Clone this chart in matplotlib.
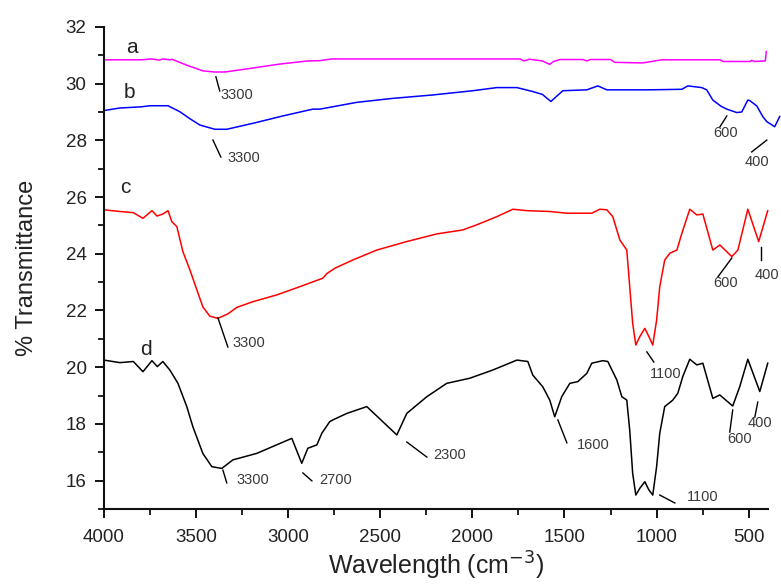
import matplotlib
matplotlib.use("Agg")
import matplotlib.pyplot as plt
from matplotlib.ticker import MultipleLocator

plt.rcParams['font.family'] = ['Liberation Sans', 'DejaVu Sans']

# ---- data (wavenumber cm-1, % transmittance) ----
a_x = [4000, 3913, 3800, 3740, 3700, 3680, 3640, 3631, 3550, 3463, 3400, 3343, 3191, 3045,
       2893, 2828, 2763, 2000, 1742, 1720, 1690, 1620, 1580, 1560, 1525, 1400, 1379, 1360,
       1250, 1227, 1075, 972, 800, 657, 640, 494, 484, 470, 410, 405]
a_y = [30.84, 30.84, 30.84, 30.87, 30.83, 30.87, 30.84, 30.86, 30.65, 30.45, 30.41, 30.41,
       30.55, 30.69, 30.80, 30.81, 30.87, 30.87, 30.87, 30.80, 30.86, 30.80, 30.68, 30.78,
       30.85, 30.85, 30.80, 30.85, 30.85, 30.75, 30.73, 30.84, 30.84, 30.84, 30.78, 30.78,
       30.82, 30.78, 30.80, 31.13]

b_x = [4000, 3913, 3800, 3750, 3652, 3588, 3530, 3479, 3398, 3333, 3191, 3029, 2866, 2828,
       2627, 2432, 2215, 1997, 1867, 1758, 1672, 1620, 1574, 1509, 1379, 1319, 1270, 1053,
       863, 831, 755, 728, 695, 650, 619, 565, 538, 505, 494, 456, 424, 402, 359, 332]
b_y = [29.05, 29.14, 29.18, 29.22, 29.22, 29.01, 28.75, 28.54, 28.39, 28.39, 28.60, 28.86,
       29.10, 29.10, 29.34, 29.48, 29.60, 29.75, 29.86, 29.86, 29.72, 29.62, 29.37, 29.75,
       29.78, 29.92, 29.78, 29.78, 29.80, 29.92, 29.86, 29.78, 29.42, 29.20, 29.10, 28.98,
       29.00, 29.42, 29.40, 29.21, 28.84, 28.66, 28.48, 28.84]

c_x = [4000, 3913, 3840, 3788, 3739, 3712, 3680, 3652, 3631, 3604, 3571, 3533, 3495, 3463,
       3425, 3381, 3327, 3278, 3191, 3061, 2936, 2811, 2790, 2746, 2649, 2519, 2356, 2193,
       2052, 1976, 1867, 1780, 1705, 1580, 1488, 1352, 1308, 1270, 1238, 1200, 1162, 1146,
       1130, 1113, 1091, 1064, 1042, 1021, 1000, 983, 956, 928, 890, 863, 820, 782, 749,
       695, 657, 592, 559, 505, 446, 397]
c_y = [25.55, 25.49, 25.45, 25.25, 25.52, 25.33, 25.40, 25.52, 25.13, 24.96, 24.07, 23.43,
       22.72, 22.13, 21.80, 21.72, 21.88, 22.11, 22.31, 22.55, 22.84, 23.14, 23.30, 23.49,
       23.78, 24.13, 24.43, 24.70, 24.84, 25.02, 25.31, 25.57, 25.52, 25.49, 25.43, 25.43,
       25.57, 25.55, 25.31, 24.49, 24.13, 22.84, 21.55, 20.78, 21.08, 21.37, 21.08, 20.78,
       21.66, 22.84, 23.78, 24.02, 24.13, 24.72, 25.57, 25.37, 25.40, 24.13, 24.31, 23.90,
       24.13, 25.57, 24.43, 25.52]

d_x = [4000, 3913, 3840, 3788, 3739, 3710, 3680, 3642, 3598, 3550, 3517, 3463, 3414, 3360,
       3300, 3170, 2980, 2926, 2893, 2844, 2817, 2774, 2757, 2681, 2573, 2410, 2356, 2247,
       2139, 2014, 1889, 1758, 1699, 1672, 1618, 1580, 1553, 1515, 1471, 1428, 1379, 1352,
       1292, 1265, 1216, 1189, 1162, 1146, 1130, 1113, 1091, 1064, 1042, 1021, 1000, 983,
       956, 912, 885, 858, 820, 782, 749, 695, 657, 587, 549, 505, 440, 397]
d_y = [20.25, 20.16, 20.20, 19.84, 20.23, 20.02, 20.20, 19.90, 19.43, 18.61, 17.90, 16.96,
       16.49, 16.43, 16.73, 16.96, 17.49, 16.61, 17.14, 17.26, 17.67, 18.08, 18.14, 18.37,
       18.61, 17.61, 18.37, 18.96, 19.43, 19.61, 19.90, 20.25, 20.20, 19.72, 19.31, 18.84,
       18.25, 18.96, 19.43, 19.49, 19.78, 20.14, 20.23, 20.20, 19.55, 18.96, 18.84, 17.78,
       16.26, 15.49, 15.73, 15.96, 15.67, 15.49, 16.49, 17.67, 18.61, 18.84, 19.08, 19.67,
       20.28, 20.08, 20.14, 18.90, 19.02, 18.63, 19.31, 20.28, 19.14, 20.14]

series_names = ['a', 'b', 'c', 'd']
series_colors = ['#ff00ff', '#0000ff', '#ff0000', '#000000']
series_label_pos = [(3848, 31.26), (3859, 29.67), (3881, 26.32), (3772, 20.61)]

# peak annotations: (text, line start, line end, text anchor)
peak_labels = ['3300', '3300', '600', '400', '3300', '1100', '600', '400',
               '3300', '2700', '2300', '1600', '1100', '600', '400']
peak_lines = [((3392, 30.24), (3371, 29.74)),
              ((3408, 28.01), (3365, 27.41)),
              ((619, 28.86), (657, 28.47)),
              ((402, 28.01), (484, 27.59)),
              ((3381, 21.74), (3327, 20.71)),
              ((1053, 20.54), (1015, 20.18)),
              ((592, 23.85), (668, 23.18)),
              ((435, 24.24), (435, 23.78)),
              ((3354, 16.37), (3333, 15.92)),
              ((2920, 16.27), (2871, 15.99)),
              ((2356, 17.36), (2247, 16.83)),
              ((1536, 18.14), (1487, 17.33)),
              ((983, 15.49), (901, 15.21)),
              ((587, 18.49), (603, 17.71)),
              ((451, 18.77), (467, 18.24))]
peak_text_pos = [(3365, 29.60), (3327, 27.38), (690, 28.26), (522, 27.24),
                 (3300, 20.85), (1037, 19.76), (695, 22.97), (467, 23.25),
                 (3278, 16.02), (2833, 16.02), (2215, 16.90), (1433, 17.26),
                 (836, 15.42), (619, 17.47), (505, 18.03)]

fig = plt.figure(figsize=(7.81, 5.85), dpi=100)
ax = fig.add_axes([0.133, 0.130, 0.850, 0.824])

for xs, ys, col in zip([a_x, b_x, c_x, d_x], [a_y, b_y, c_y, d_y], series_colors):
    ax.plot(xs, ys, color=col, lw=1.1, clip_on=False)

for name, (px, py) in zip(series_names, series_label_pos):
    ax.text(px, py, name, fontsize=15, color='#222222', ha='center', va='center')

for lab, (p0, p1), (tx, ty) in zip(peak_labels, peak_lines, peak_text_pos):
    ax.plot([p0[0], p1[0]], [p0[1], p1[1]], color='black', lw=1.0, clip_on=False)
    ax.text(tx, ty, lab, fontsize=10.5, color='#3a3a3a', ha='left', va='center', clip_on=False)

ax.set_xlim(4000, 397)
ax.set_ylim(15, 32)
ax.xaxis.set_major_locator(MultipleLocator(500))
ax.xaxis.set_minor_locator(MultipleLocator(250))
ax.yaxis.set_major_locator(MultipleLocator(2))
ax.yaxis.set_minor_locator(MultipleLocator(1))
ax.set_yticks([16, 18, 20, 22, 24, 26, 28, 30, 32])

for s in ['top', 'right']:
    ax.spines[s].set_visible(False)
for s in ['left', 'bottom']:
    ax.spines[s].set_linewidth(1.5)
    ax.spines[s].set_color('#111111')

ax.tick_params(which='major', direction='out', length=6.5, width=1.3, labelsize=13.5,
               labelcolor='#222222', pad=6)
ax.tick_params(which='minor', direction='out', length=4, width=1.2)
ax.tick_params(axis='x', which='major', pad=8)

ax.set_xlabel('Wavelength (cm$^{-3}$)', fontsize=18, color='#222222', labelpad=3)
ax.set_ylabel('% Transmittance', fontsize=17, color='#222222', labelpad=20)

fig.savefig('out.png', dpi=100)
